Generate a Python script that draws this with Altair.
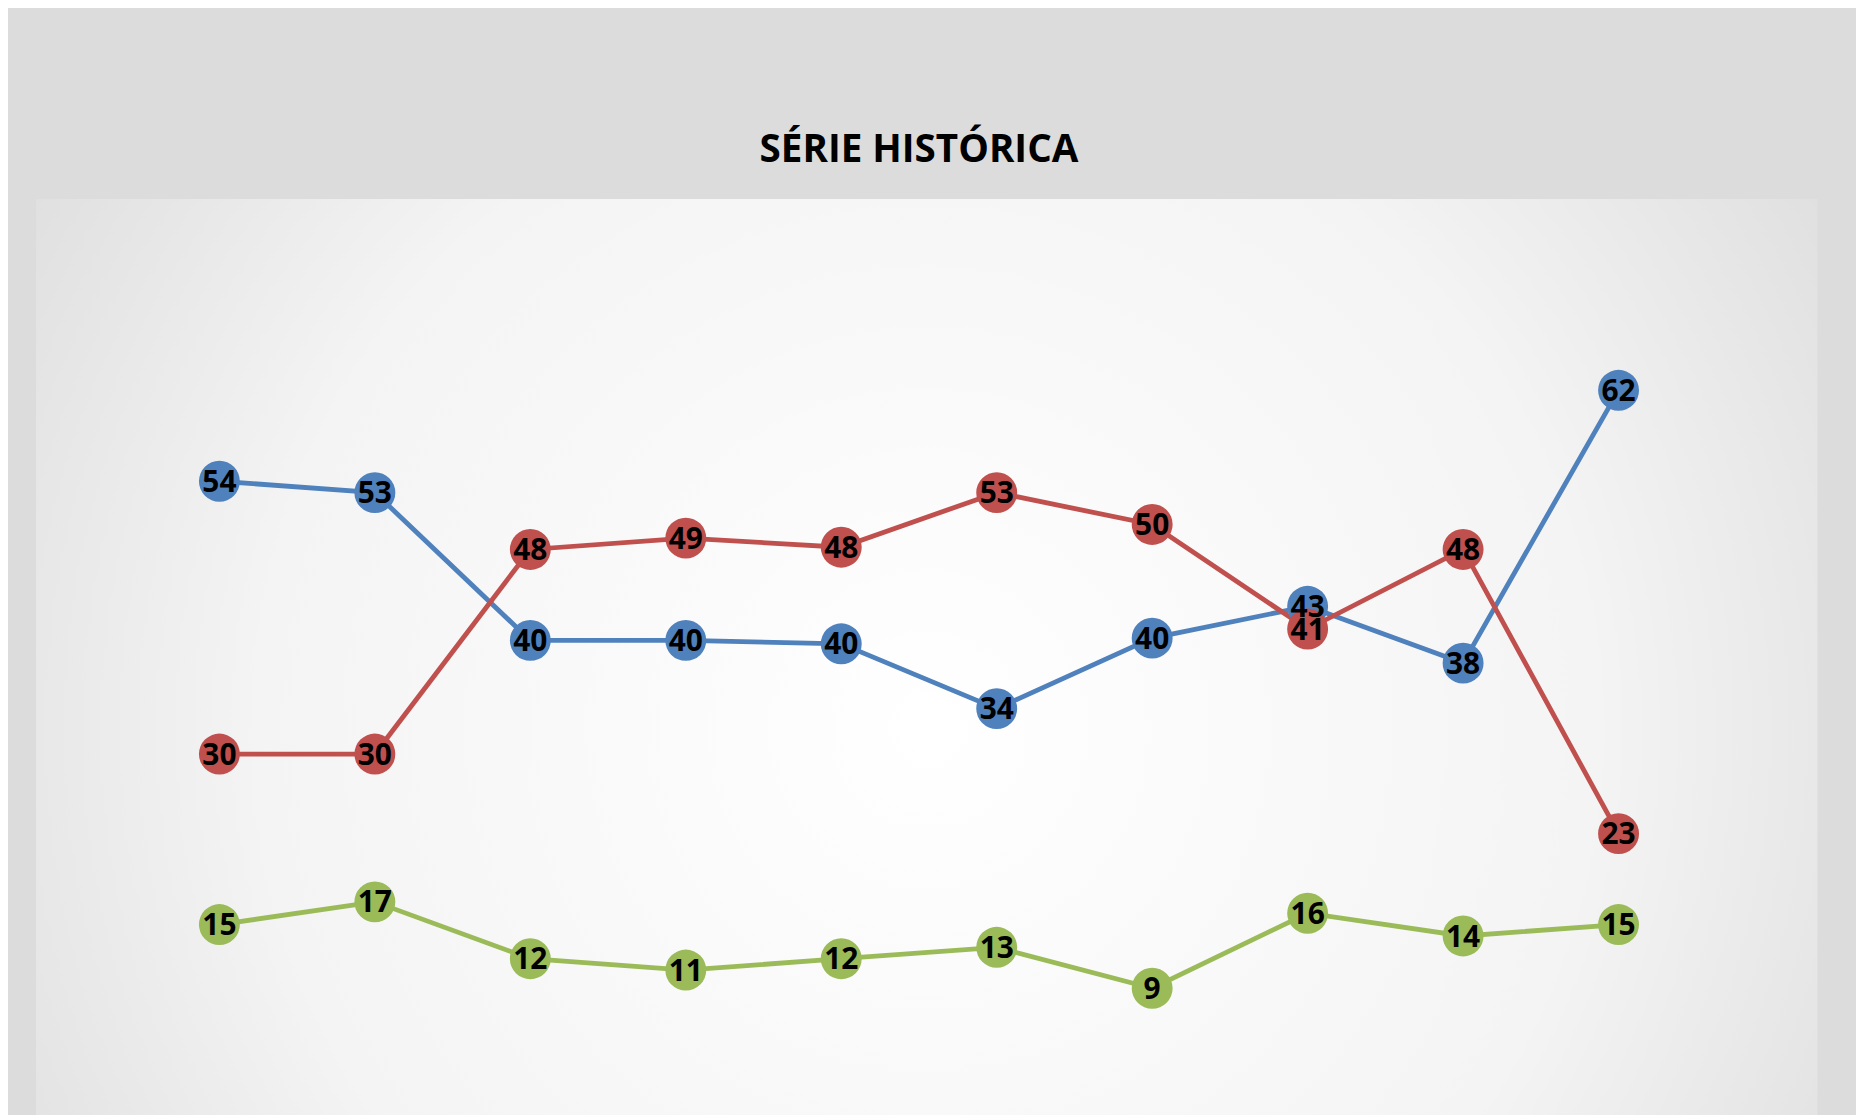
import pandas as pd
import altair as alt

months = ["FEV", "MAR", "MAI", "JUN", "JUL", "SET", "OUT", "JAN/20", "FEV/20", "MAR/20"]
aprovam = [54, 53, 40, 40, 40, 34, 40, 43, 38, 62]
desaprovam = [30, 30, 48, 49, 48, 53, 50, 41, 48, 23]
nsr = [15, 17, 12, 11, 12, 13, 9, 16, 14, 15]
# small vertical offsets of the markers as drawn in the picture
apr_pos = [54, 53, 40, 40, 39.7, 34, 40.2, 43, 38, 62]
des_pos = [30, 30, 48, 49, 48.2, 53, 50.2, 41, 48, 23]
nsr_pos = [15, 17, 12, 11, 12, 13, 9.4, 16, 14, 15]

series = ["APROVAM", "DESAPROVAM", "NSR"]
colors = ["#4f81bd", "#c0504d", "#9bbb59"]

rows = []
for name, vals, pos in [("APROVAM", aprovam, apr_pos), ("DESAPROVAM", desaprovam, des_pos), ("NSR", nsr, nsr_pos)]:
    for m, v, p in zip(months, vals, pos):
        rows.append({"mes": m, "serie": name, "valor": v, "pos": p})
df = pd.DataFrame(rows)

W, H = 1773, 825

bg = alt.Chart(pd.DataFrame({"a": [0]})).mark_rect(
    fill=alt.Gradient(gradient="radial", x1=0.5, y1=0.5, x2=0.5, y2=0.5, r1=0, r2=0.75,
                      stops=[alt.GradientStop(offset=0, color="#ffffff"),
                             alt.GradientStop(offset=0.5, color="#f4f4f4"),
                             alt.GradientStop(offset=1, color="#d0d0d0")])
).encode(x=alt.value(-29), x2=alt.value(W + 45), y=alt.value(-104), y2=alt.value(H + 170))

base = alt.Chart(df).encode(
    x=alt.X("mes:N", sort=months, scale=alt.Scale(paddingInner=0, paddingOuter=0.5, type="band"),
            axis=alt.Axis(title=None, labelFontSize=33, labelPadding=40, ticks=False,
                          domainColor="#404040", domainWidth=3, labelColor="#000000",
                          labelAngle=0, grid=False)),
    y=alt.Y("pos:Q", scale=alt.Scale(domain=[0, 70]),
            axis=alt.Axis(title=None, labels=False, ticks=False, domain=False,
                          tickCount=7, values=[10, 20, 30, 40, 50, 60, 70],
                          gridColor="#d0d0d0", gridWidth=1.5)),
    color=alt.Color("serie:N", scale=alt.Scale(domain=series, range=colors),
                    legend=alt.Legend(title=None, orient="bottom", direction="horizontal",
                                      labelFontSize=34, symbolSize=500, symbolType="circle",
                                      symbolStrokeWidth=0, columnPadding=40, offset=60,
                                      labelColor="#000000", fillColor="#f2f2f2", padding=10)),
)

lines = base.mark_line(strokeWidth=5)
points = base.mark_circle(size=1800, opacity=1)
labels = base.mark_text(fontSize=31, fontWeight="bold", color="#000000", dy=2).encode(
    text="valor:Q", color=alt.value("#000000"))

chart = alt.layer(bg, lines, points, labels).properties(
    width=W, height=H, padding={"left": 29, "top": 104, "right": 40, "bottom": 20},
    background="#dcdcdc",
    title=alt.TitleParams("SÉRIE HISTÓRICA", fontSize=40, fontWeight="bold", color="#000000",
                          offset=30, anchor="middle"),
).configure_view(stroke=None).configure(font="Open Sans")

chart.save("out.html", embed_options={"renderer": "svg", "actions": False})
